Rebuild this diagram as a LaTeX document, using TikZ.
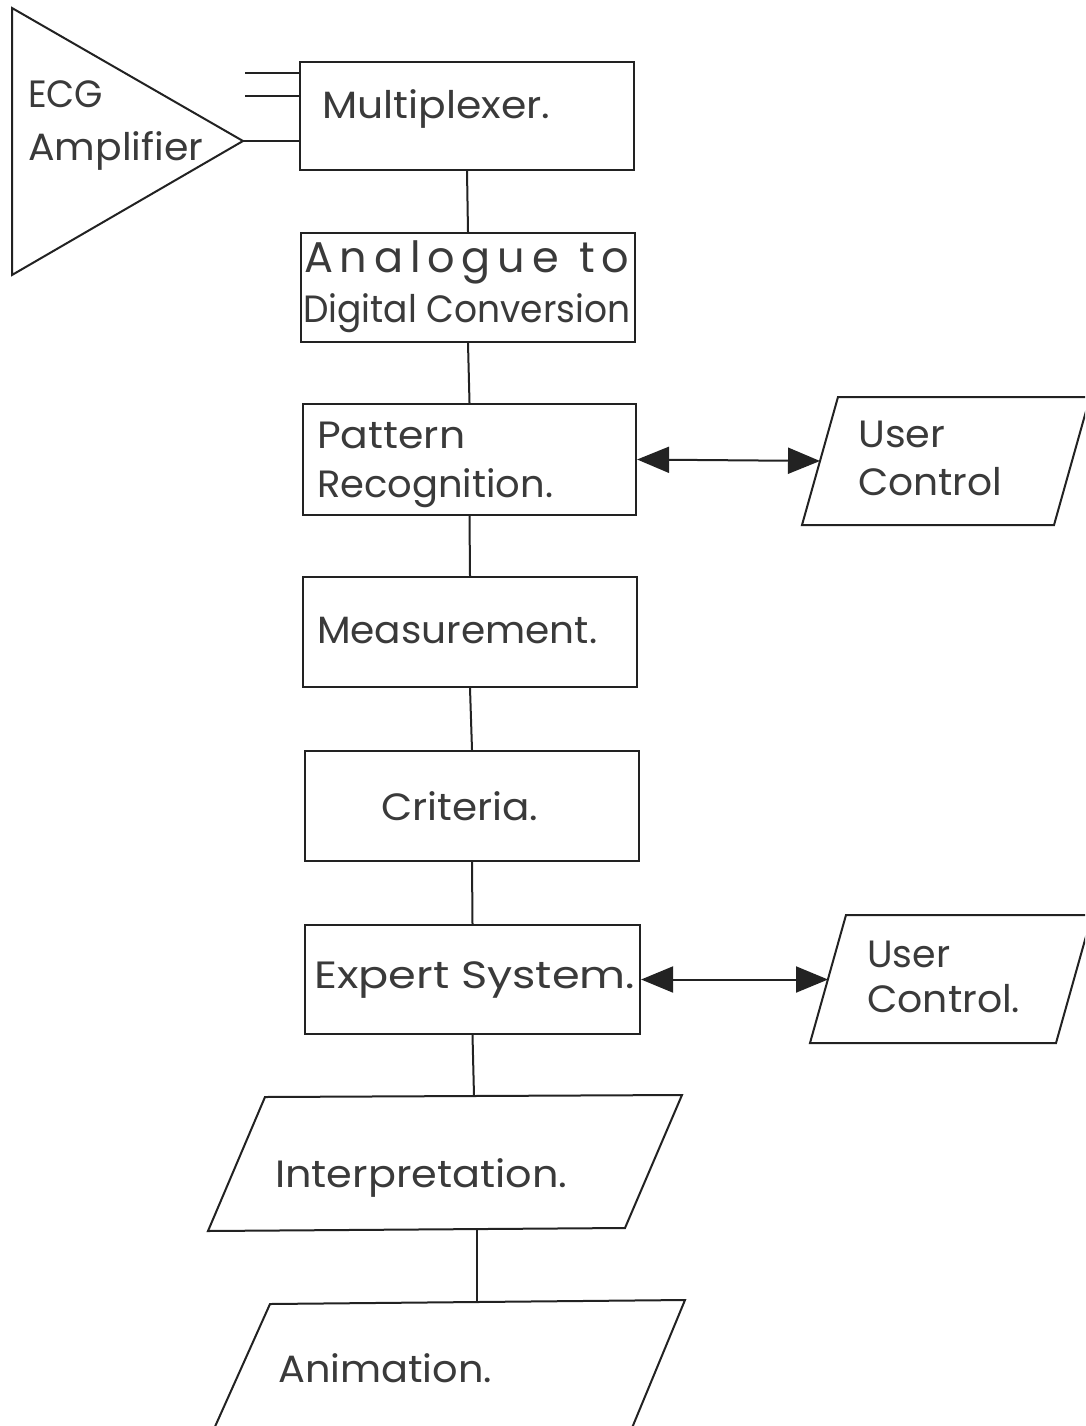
\documentclass[tikz,border=0pt]{standalone}
\usepackage{fontspec}
\setmainfont{Poppins}
\usetikzlibrary{arrows.meta}
\definecolor{ink}{HTML}{222222}
\definecolor{txt}{HTML}{3A3A3A}
% set a line of text at a given width (in pt), keeping its height
\newlength\fitlen
\newcommand\fitto[2]{\settowidth{\fitlen}{#2}\pgfmathsetmacro\fitratio{#1/\fitlen}\scalebox{\fitratio}[1]{#2}}
\tikzset{
  stage/.style={draw=ink, line width=2.2pt, rectangle, inner sep=0pt},
  flow/.style={draw=ink, line width=2pt},
  label/.style={anchor=base west, inner sep=0pt, text=txt,
    font=\fontsize{38}{40}\selectfont},
  twoway/.style={flow, {Triangle[length=32pt,width=26pt]}-{Triangle[length=32pt,width=26pt]}},
}
\begin{document}
\begin{tikzpicture}[x=1pt,y=-1pt]
\useasboundingbox (0,0) rectangle (1085,1426);
\fill[white] (0,0) rectangle (1085,1426);
\clip (0,0) rectangle (1085,1426);

% amplifier symbol and its three leads
\draw[flow, line join=miter] (12,8) coordinate (ampTop) -- (243,141) coordinate (ampOut) -- (12,275) -- cycle;
\node[label] (ecg) at (28,108) {\fitto{75}{ECG}};
\node[label] (amp) at (28,160) {\fitto{175}{Amplifier}};

% processing chain
\node[stage, minimum width=334pt, minimum height=108pt] (mux)  at (467,116) {};
\node[stage, minimum width=334pt, minimum height=109pt] (adc)  at (468,287.5) {};
\node[stage, minimum width=333pt, minimum height=111pt] (pat)  at (469.5,459.5) {};
\node[stage, minimum width=334pt, minimum height=110pt] (meas) at (470,632) {};
\node[stage, minimum width=334pt, minimum height=110pt] (crit) at (472,806) {};
\node[stage, minimum width=335pt, minimum height=109pt] (exp)  at (472.5,979.5) {};

\coordinate (inA) at (245,73);
\coordinate (inB) at (245,96);
\draw[flow] (inA) -- (inA -| mux.west);
\draw[flow] (inB) -- (inB -| mux.west);
\draw[flow] (ampOut) -- (ampOut -| mux.west);

\node[label] (muxT) at (322,118) {\fitto{228}{Multiplexer.}};
% widely spaced first line of the converter box
\node[label, font=\fontsize{43}{45}\selectfont] (adcT1) at (304,272) {\makebox[325pt][s]{A\hfill n\hfill a\hfill l\hfill o\hfill g\hfill u\hfill e\hfill\hfill\hfill t\hfill o}};
\node[label] (adcT2) at (303,322) {\fitto{327}{Digital Conversion}};
\node[label] (patT1) at (317,448) {\fitto{148}{Pattern}};
\node[label] (patT2) at (317,497) {\fitto{236}{Recognition.}};
\node[label] (measT) at (317,643) {\fitto{280}{Measurement.}};
\node[label] (critT) at (381,820) {\fitto{157}{Criteria.}};
\node[label] (expT) at (314,988) {\fitto{321}{Expert System.}};

\draw[flow] (mux.south) -- (adc.north);
\draw[flow] (adc.south) -- (pat.north);
\draw[flow] (pat.south) -- (meas.north);
\draw[flow] (meas.south) -- (crit.north);
\draw[flow] (crit.south) -- (exp.north);

% user control inputs
\draw[flow, line join=miter] (838,397) -- (1090,397) -- (1054,525) -- (802,525) -- cycle;
\coordinate (uc1) at (820,461);
\node[label] (uc1a) at (858,447) {\fitto{87}{User}};
\node[label] (uc1b) at (858,495) {\fitto{144}{Control}};
\draw[twoway] (pat.east) -- (uc1);

\draw[flow, line join=miter] (846,915) -- (1092,915) -- (1056,1043) -- (810,1043) -- cycle;
\coordinate (uc2) at (828,979.5);
\node[label] (uc2a) at (867,967) {\fitto{83}{User}};
\node[label] (uc2b) at (867,1012) {\fitto{153}{Control.}};
\draw[twoway] (exp.east) -- (uc2);

% outputs
\draw[flow, line join=miter] (265,1097) -- (682,1095) -- (625,1228) -- (208,1231) -- cycle;
\coordinate (intTop) at (474,1096);
\coordinate (intBot) at (477,1229.5);
\node[label] (intT) at (275,1187) {\fitto{292}{Interpretation.}};
\draw[flow] (exp.south) -- (intTop);

\draw[flow, line join=miter] (270,1304) -- (685,1300) -- (627,1440) -- (209,1440) -- cycle;
\coordinate (aniTop) at (477,1302);
\node[label] (aniT) at (278,1382) {\fitto{214}{Animation.}};
\draw[flow] (intBot) -- (aniTop);
\end{tikzpicture}
\end{document}
